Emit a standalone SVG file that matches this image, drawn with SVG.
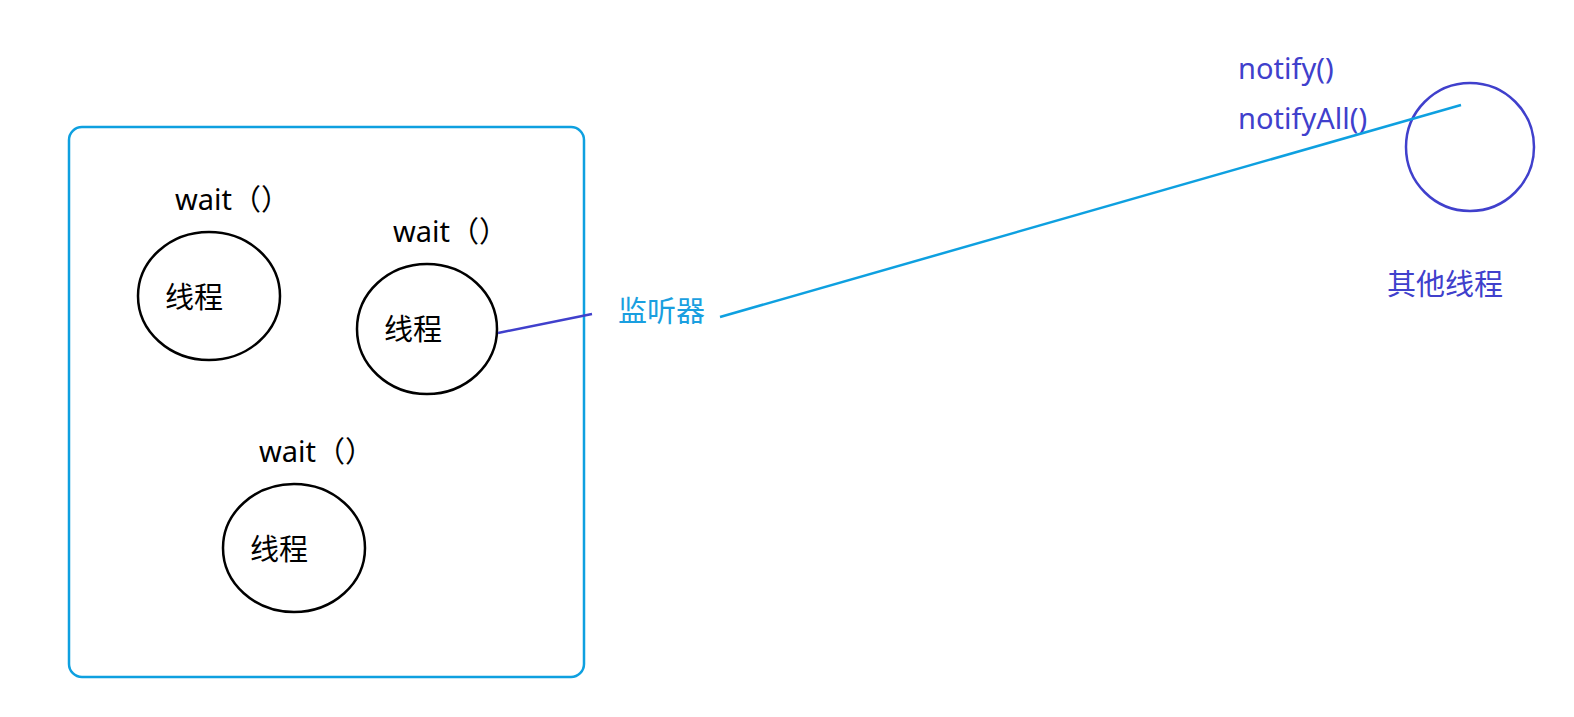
<svg xmlns="http://www.w3.org/2000/svg" width="1574" height="717" viewBox="0 0 1574 717">
<style>
text{font-family:"Noto Sans","Noto Sans CJK SC",sans-serif;font-size:29px}
.k{fill:#000}
.b{fill:#1a9fe0}
.p{fill:#4040cc}
.th{fill:none;stroke:#000;stroke-width:2.5}
</style>
<rect width="1574" height="717" fill="#fff"/>
<g id="container">
<rect x="69" y="127" width="515" height="550" rx="13" fill="none" stroke="#0ea0e0" stroke-width="2.5"/>
</g>
<g id="thread1">
<text class="k" x="175" y="210">wait（）</text>
<ellipse class="th" cx="209" cy="296" rx="71" ry="64"/>
<text class="k" x="165" y="308">线程</text>
</g>
<g id="thread2">
<text class="k" x="393" y="242">wait（）</text>
<ellipse class="th" cx="427" cy="329" rx="70" ry="65"/>
<text class="k" x="384" y="340">线程</text>
</g>
<g id="thread3">
<text class="k" x="259" y="462">wait（）</text>
<ellipse class="th" cx="294" cy="548" rx="71" ry="64"/>
<text class="k" x="250" y="560">线程</text>
</g>
<g id="listener">
<text class="b" x="618" y="322">监听器</text>
</g>
<g id="other">
<text class="p" x="1238" y="79">notify()</text>
<text class="p" x="1238" y="129">notifyAll()</text>
<circle cx="1470" cy="147" r="64" fill="none" stroke="#4040cc" stroke-width="2.5"/>
<text class="p" x="1387" y="295">其他线程</text>
</g>
<g id="connectors" fill="none" stroke-width="2.5">
<line x1="498" y1="333" x2="592" y2="314" stroke="#4040cc"/>
<line x1="720" y1="317" x2="1461" y2="105" stroke="#0ea0e0"/>
</g>
</svg>
